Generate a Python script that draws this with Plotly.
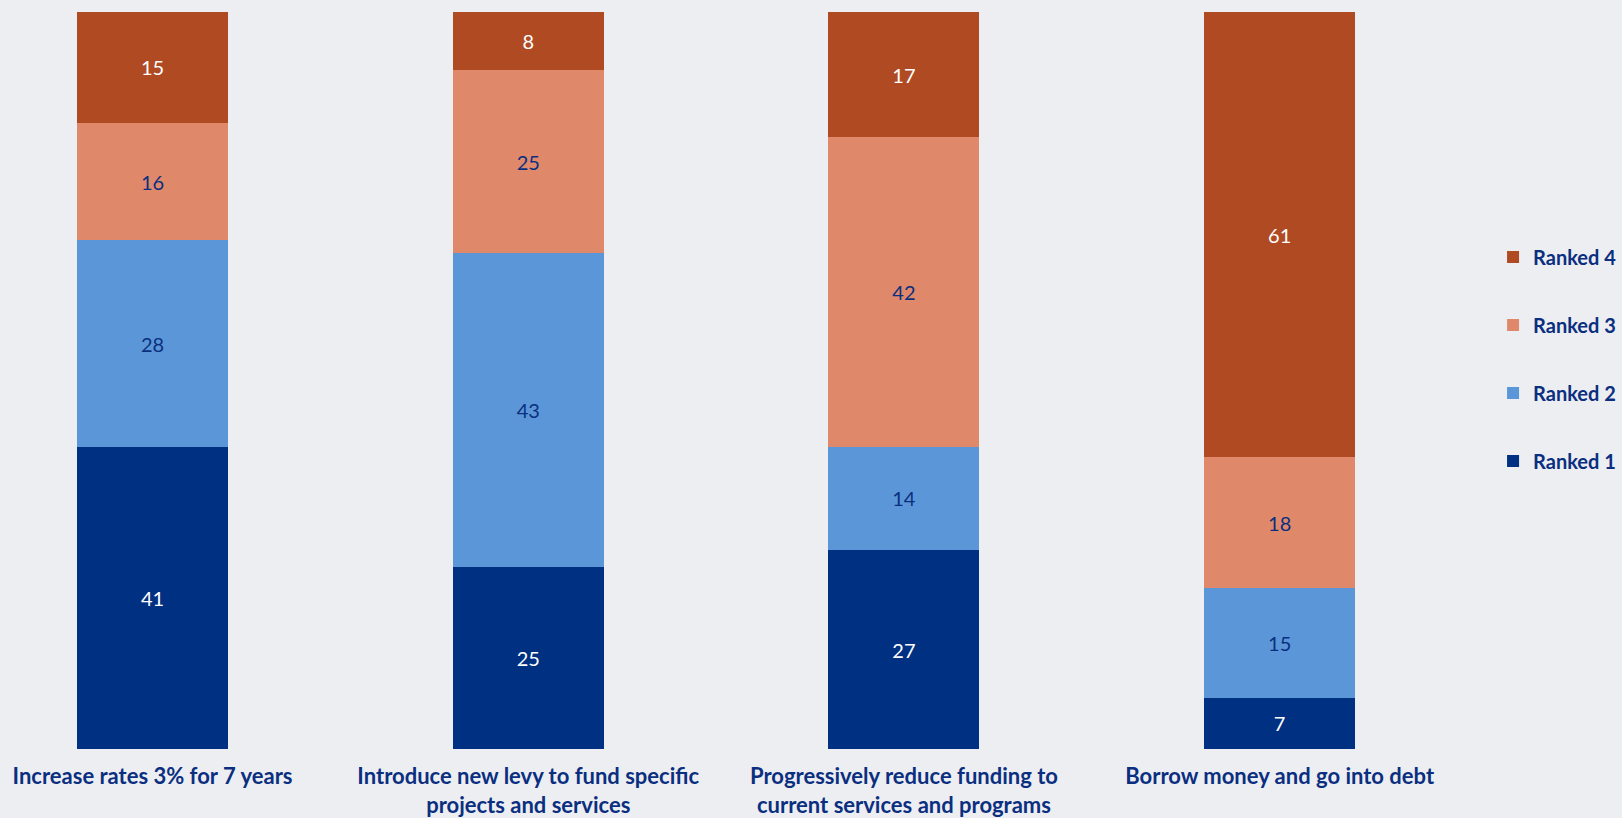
import plotly.graph_objects as go

# Survey: how respondents ranked each funding option (percent of respondents)
options = [
    "Increase rates 3% for 7 years",
    "Introduce new levy to fund specific<br>projects and services",
    "Progressively reduce funding to<br>current services and programs",
    "Borrow money and go into debt",
]
ranked_1 = [41, 25, 27, 7]
ranked_2 = [28, 43, 14, 15]
ranked_3 = [16, 25, 42, 18]
ranked_4 = [15, 8, 17, 61]

# (name, values, fill colour, label colour, legend position)
series = [
    ("Ranked 1", ranked_1, "#003082", "#FFFFFF", 4),
    ("Ranked 2", ranked_2, "#5B97D8", "#0B2F80", 3),
    ("Ranked 3", ranked_3, "#E0896A", "#0B2F80", 2),
    ("Ranked 4", ranked_4, "#B04A22", "#FFFFFF", 1),
]

NAVY = "#0B2F80"
BG = "#EDEEF2"
FONT = "Lato"

fig = go.Figure()
for name, vals, color, txt, rank in series:
    fig.add_trace(go.Bar(
        name=name,
        x=list(range(len(options))),
        y=vals,
        marker=dict(color=color, line=dict(width=0)),
        width=0.402,
        text=[str(v) for v in vals],
        textposition="inside",
        insidetextanchor="middle",
        textangle=0,
        textfont=dict(family=FONT, size=20, color=txt),
        legendgroup=name,
        legendrank=rank,
    ))

fig.update_layout(
    barmode="stack",
    barnorm="percent",
    width=1622,
    height=818,
    paper_bgcolor=BG,
    plot_bgcolor=BG,
    margin=dict(l=0, r=162, t=12, b=69, autoexpand=False),
    font=dict(family=FONT, color=NAVY),
    xaxis=dict(
        tickmode="array",
        tickvals=list(range(len(options))),
        ticktext=options,
        range=[-0.406, 3.48],
        showgrid=False,
        zeroline=False,
        showline=False,
        ticks="",
        ticklabelstandoff=12,
        automargin=False,
        tickfont=dict(family=FONT, size=22, color=NAVY, weight="bold"),
    ),
    yaxis=dict(
        range=[0, 100],
        visible=False,
        showgrid=False,
        zeroline=False,
    ),
    legend=dict(
        traceorder="grouped",
        tracegroupgap=39,
        xref="container",
        x=0.9205,
        xanchor="left",
        y=0.694,
        yanchor="top",
        bgcolor="rgba(0,0,0,0)",
        font=dict(family=FONT, size=20, color=NAVY, weight="bold"),
        itemwidth=30,
    ),
    showlegend=True,
)

fig.write_html("out.html")
